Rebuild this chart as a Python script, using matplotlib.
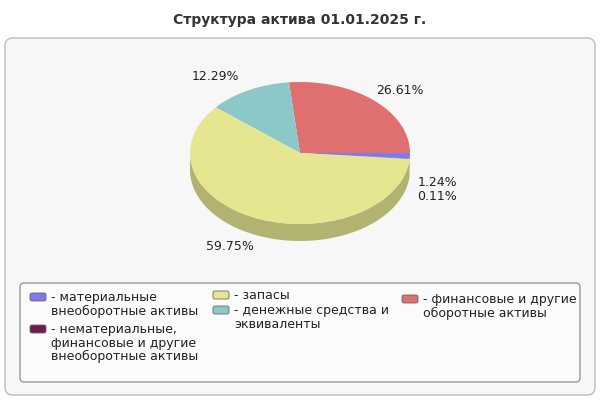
import numpy as np
import matplotlib
matplotlib.use("Agg")
import matplotlib.pyplot as plt
from matplotlib.patches import Polygon, FancyBboxPatch
from matplotlib.colors import to_rgb

title = "Структура актива 01.01.2025 г."
labels = ["- нематериальные,\nфинансовые и другие\nвнеоборотные активы",
          "- материальные\nвнеоборотные активы",
          "- финансовые и другие\nоборотные активы",
          "- денежные средства и\nэквиваленты",
          "- запасы"]
values = [0.11, 1.24, 26.61, 12.29, 59.75]
colors = ["#6e1a50", "#7b7bef", "#e07070", "#8cc8c8", "#e6e691"]
pct_text = ["0.11%", "1.24%", "26.61%", "12.29%", "59.75%"]
pct_pos = [(437, 196), (437, 183), (400, 90), (215, 76), (230, 247)]

CX, CY, RX, RY, DEPTH = 300, 153, 110, 71, 17
START = -4.9

fig = plt.figure(figsize=(6, 4), dpi=100)
ax = fig.add_axes([0, 0, 1, 1])
ax.set_xlim(0, 600); ax.set_ylim(400, 0); ax.axis("off")

ax.text(300, 20, title, ha="center", va="center", fontsize=10, fontweight="bold", color="#333333")
ax.add_patch(FancyBboxPatch((5, 38), 590, 357, boxstyle="round,pad=0,rounding_size=8",
                            fc="#f7f7f7", ec="#bbbbbb", lw=1))


def pt(t, dy=0):
    r = np.radians(t)
    return CX + RX * np.cos(r), CY - RY * np.sin(r) + dy


angles = START + np.concatenate([[0], np.cumsum(values)]) * 3.6
# side walls (front half only)
for i, c in enumerate(colors):
    a1, a2 = angles[i], angles[i + 1]
    for off in (0, 360):
        lo, hi = max(a1, 180 + off), min(a2, 360 + off)
        if lo < hi:
            ts = np.linspace(lo, hi, 60)
            top = [pt(t) for t in ts]
            bot = [pt(t, DEPTH) for t in ts[::-1]]
            side = tuple(0.78 * np.array(to_rgb(c)))
            ax.add_patch(Polygon(top + bot, closed=True, fc=side, ec="none"))
# top faces
for i, c in enumerate(colors):
    ts = np.linspace(angles[i], angles[i + 1], 100)
    ax.add_patch(Polygon([(CX, CY)] + [pt(t) for t in ts], closed=True, fc=c, ec="none"))

for s, (x, y) in zip(pct_text, pct_pos):
    ax.text(x, y, s, ha="center", va="center", fontsize=9, color="#222222")

# legend
ax.add_patch(FancyBboxPatch((20, 283), 560, 99, boxstyle="round,pad=0,rounding_size=4",
                            fc="#fbfbfb", ec="#999999", lw=1))
leg = [(1, 30, 297), (0, 30, 329), (4, 213, 295), (3, 213, 310), (2, 402, 299)]
for i, x, y in leg:
    ax.add_patch(FancyBboxPatch((x, y - 4), 16, 8, boxstyle="round,pad=0,rounding_size=2",
                                fc=colors[i], ec="#666666", lw=0.6))
    ax.text(x + 21, y - 6, labels[i], ha="left", va="top", fontsize=9,
            color="#222222", linespacing=1.05)

fig.savefig("out.png", dpi=100)
